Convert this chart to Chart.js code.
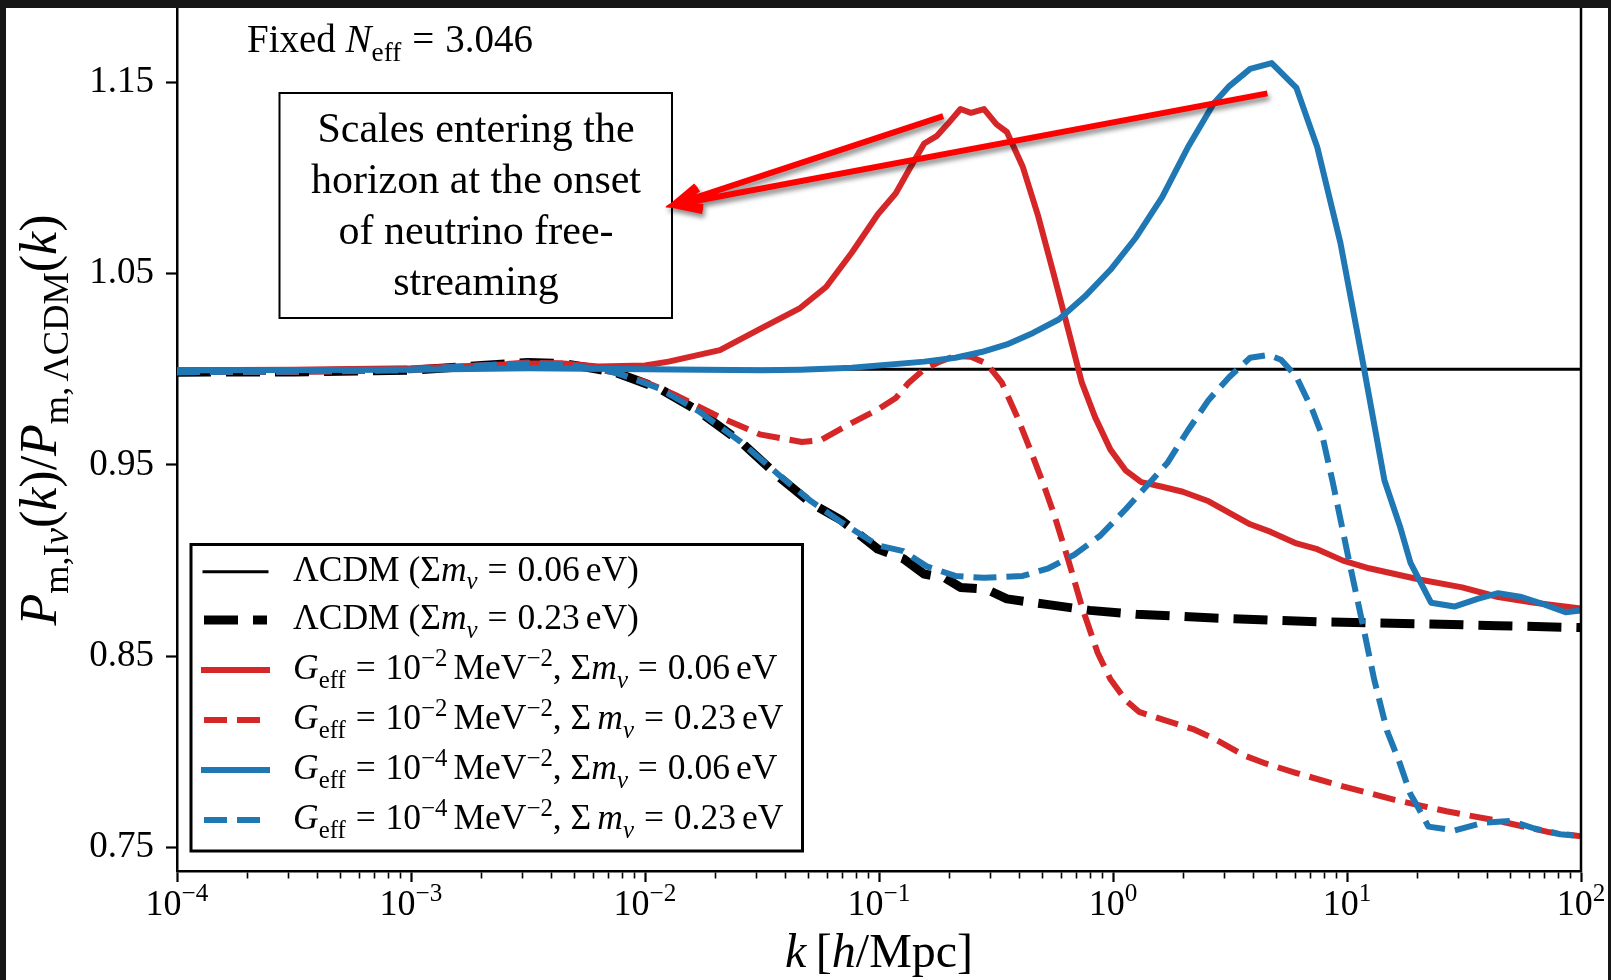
<!DOCTYPE html>
<html>
<head>
<meta charset="utf-8">
<title>Matter power spectrum ratio</title>
<script src="https://cdn.jsdelivr.net/npm/chart.js@4.4.1/dist/chart.umd.min.js"></script>
<style>
  html, body { margin: 0; padding: 0; background: #fff; }
  #wrap { position: relative; width: 1611px; height: 980px; overflow: hidden; background: #fff; }
  #c { position: absolute; left: 0; top: 0; }
  .band { position: absolute; background: #161616; }
</style>
</head>
<body>
<div id="wrap">
  <canvas id="c" width="1611" height="980"></canvas>
  <div class="band" style="left:0;top:0;width:1611px;height:8px"></div>
  <div class="band" style="left:0;top:0;width:6px;height:980px"></div>
  <div class="band" style="left:1608px;top:0;width:3px;height:980px"></div>
</div>
<script>
const SERIF = '"Liberation Serif", "Times New Roman", serif';
const RED = '#d62728';
const BLUE = '#1f77b4';

// ---- data: wavenumber k [h/Mpc] and ratio P_m / P_m,LCDM ----
const kLcdm006 = [1e-4, 100];
const ratioLcdm006 = [1.0, 1.0];

const kLcdm023 = [1e-4, 3.16e-4, 1e-3, 2.0e-3, 3.16e-3, 4.47e-3, 6.31e-3, 7.59e-3, 0.0115, 0.0170,
  0.0257, 0.0380, 0.0513, 0.0692, 0.0989, 0.127, 0.156, 0.191, 0.223, 0.288,
  0.352, 0.530, 0.796, 1.259, 2.698, 7.464, 20.65, 44.26, 100];
const ratioLcdm023 = [0.9985, 0.9986, 0.9995, 1.002, 1.0035, 1.003, 1.000, 0.998, 0.990, 0.978,
  0.962, 0.943, 0.930, 0.921, 0.906, 0.901, 0.893, 0.891, 0.886, 0.885,
  0.880, 0.877, 0.874, 0.872, 0.870, 0.868, 0.867, 0.866, 0.865];

const kStrong006 = [1e-4, 3.16e-4, 1e-3, 2.0e-3, 3.16e-3, 4.47e-3, 6.31e-3, 1e-2, 0.0126, 0.0209,
  0.0309, 0.0460, 0.0594, 0.0766, 0.0989, 0.118, 0.134, 0.156, 0.177, 0.196,
  0.223, 0.247, 0.281, 0.318, 0.352, 0.411, 0.479, 0.557, 0.649, 0.736,
  0.838, 0.975, 1.135, 1.321, 1.622, 1.986, 2.564, 3.855, 4.721, 6.081,
  7.464, 9.616, 12.42, 20.65, 31.05, 44.26, 63.24, 100];
const ratioStrong006 = [0.9995, 0.9997, 1.0005, 1.002, 1.003, 1.003, 1.0015, 1.002, 1.004, 1.010,
  1.021, 1.032, 1.043, 1.061, 1.081, 1.092, 1.104, 1.118, 1.122, 1.128,
  1.136, 1.134, 1.136, 1.128, 1.124, 1.106, 1.080, 1.050, 1.019, 0.993,
  0.975, 0.958, 0.947, 0.941, 0.9386, 0.936, 0.931, 0.919, 0.915, 0.909,
  0.906, 0.900, 0.896, 0.890, 0.886, 0.881, 0.878, 0.875];

const kStrong023 = [1e-4, 3.16e-4, 1e-3, 2.0e-3, 3.16e-3, 4.47e-3, 6.31e-3, 7.59e-3, 0.0102, 0.0138,
  0.0209, 0.0309, 0.0468, 0.0564, 0.0766, 0.0989, 0.118, 0.134, 0.156, 0.182,
  0.212, 0.247, 0.288, 0.335, 0.390, 0.443, 0.504, 0.557, 0.649, 0.736,
  0.859, 0.975, 1.135, 1.291, 1.622, 2.198, 2.698, 3.664, 4.487, 6.081,
  9.616, 16.00, 26.61, 44.26, 73.62, 100];
const ratioStrong023 = [0.9985, 0.9986, 0.9995, 1.002, 1.0035, 1.003, 1.000, 0.998, 0.993, 0.986,
  0.975, 0.966, 0.962, 0.963, 0.972, 0.979, 0.985, 0.993, 1.000, 1.004,
  1.007, 1.0066, 1.003, 0.993, 0.975, 0.958, 0.940, 0.925, 0.899, 0.876,
  0.852, 0.838, 0.827, 0.821, 0.817, 0.812, 0.807, 0.798, 0.794, 0.789,
  0.782, 0.775, 0.769, 0.764, 0.758, 0.756];

const kWeak006 = [1e-4, 1e-3, 3.16e-3, 1e-2, 0.0316, 0.0460, 0.0766, 0.156, 0.212, 0.274,
  0.352, 0.455, 0.586, 0.757, 0.975, 1.256, 1.622, 2.089, 2.698, 3.141,
  3.855, 4.764, 6.081, 7.464, 9.376, 11.80, 14.45, 16.83, 18.66, 22.86,
  28.77, 36.14, 44.26, 55.72, 69.98, 85.90, 100];
const ratioWeak006 = [0.9995, 0.9997, 1.0005, 1.000, 0.9995, 0.9998, 1.0008, 1.004, 1.006, 1.009,
  1.013, 1.019, 1.026, 1.038, 1.052, 1.069, 1.090, 1.116, 1.139, 1.148,
  1.157, 1.160, 1.147, 1.116, 1.066, 1.001, 0.942, 0.918, 0.899, 0.878,
  0.876, 0.880, 0.883, 0.881, 0.877, 0.873, 0.874];

const kWeak023 = [1e-4, 3.16e-4, 1e-3, 2.0e-3, 3.16e-3, 4.47e-3, 6.31e-3, 7.59e-3, 0.0115, 0.0170,
  0.0257, 0.0380, 0.0513, 0.0692, 0.0989, 0.127, 0.160, 0.212, 0.281, 0.411,
  0.530, 0.682, 0.881, 1.135, 1.466, 1.706, 2.089, 2.564, 3.141, 3.855,
  4.603, 5.224, 6.081, 7.096, 7.852, 8.690, 10.12, 11.80, 13.06, 14.83,
  16.83, 18.66, 20.14, 22.28, 28.77, 38.02, 50.35, 63.24, 81.47, 100];
const ratioWeak023 = [0.9985, 0.9988, 0.9998, 1.002, 1.003, 1.0028, 1.000, 0.998, 0.990, 0.978,
  0.962, 0.944, 0.931, 0.920, 0.908, 0.905, 0.897, 0.892, 0.891, 0.892,
  0.896, 0.903, 0.913, 0.927, 0.942, 0.951, 0.968, 0.984, 0.996, 1.006,
  1.0075, 1.005, 0.996, 0.979, 0.965, 0.941, 0.902, 0.864, 0.838, 0.811,
  0.794, 0.778, 0.771, 0.761, 0.759, 0.763, 0.764, 0.760, 0.757, 0.756];

const yTickValues = [0.75, 0.85, 0.95, 1.05, 1.15];
const Y_MIN = 0.7378;
const Y_MAX = 1.1888;
const xDecades = [1e-4, 1e-3, 1e-2, 1e-1, 1, 10, 100];
const xDecadeExponents = ['\u22124', '\u22123', '\u22122', '\u22121', '0', '1', '2'];

// annotation arrows (k, ratio): common tip and two tails
const arrowTip = { k: 0.0132, r: 1.0858 };
const arrowTails = [{ k: 0.188, r: 1.1323 }, { k: 4.57, r: 1.1442 }];

// ---- helpers ----
function pts(ks, rs) { return ks.map((k, i) => ({ x: k, y: rs[i] })); }

// log-axis tick list: decades (major) plus 2..9 (minor)
const xTickList = [];
xDecades.forEach((d, i) => {
  xTickList.push({ value: d, major: true });
  if (i < xDecades.length - 1) for (let m = 2; m <= 9; m++) xTickList.push({ value: m * d, major: false });
});

// rich text: parts {t, i (italic), s ('sub'|'sup'), g (gap in em)}
function layoutRich(ctx, parts, size) {
  let w = 0;
  const items = parts.map(p => {
    if (p.g) { const gw = p.g * size; w += gw; return { gap: gw }; }
    const fs = p.s ? size * 0.7 : size;
    const font = (p.i ? 'italic ' : '') + fs.toFixed(1) + 'px ' + SERIF;
    ctx.font = font;
    const pw = ctx.measureText(p.t).width;
    const dy = p.s === 'sub' ? 0.24 * size : (p.s === 'sup' ? -0.38 * size : 0);
    w += pw;
    return { t: p.t, font, w: pw, dy };
  });
  return { items, w };
}
function drawRich(ctx, parts, x, y, size, align) {
  const L = layoutRich(ctx, parts, size);
  let cx = align === 'center' ? x - L.w / 2 : (align === 'right' ? x - L.w : x);
  ctx.textAlign = 'left';
  ctx.textBaseline = 'alphabetic';
  ctx.fillStyle = '#000';
  for (const it of L.items) {
    if (it.gap) { cx += it.gap; continue; }
    ctx.font = it.font;
    ctx.fillText(it.t, cx, y + it.dy);
    cx += it.w;
  }
}

const EQ = [{ g: 0.28 }, { t: '=' }, { g: 0.28 }];
const legendRows = [
  [{ t: '\u039BCDM (' }, { t: '\u03A3' }, { t: 'm', i: 1 }, { t: '\u03BD', i: 1, s: 'sub' }, ...EQ, { t: '0.06' }, { g: 0.17 }, { t: 'eV)' }],
  [{ t: '\u039BCDM (' }, { t: '\u03A3' }, { t: 'm', i: 1 }, { t: '\u03BD', i: 1, s: 'sub' }, ...EQ, { t: '0.23' }, { g: 0.17 }, { t: 'eV)' }],
  [{ t: 'G', i: 1 }, { t: 'eff', s: 'sub' }, ...EQ, { t: '10' }, { t: '\u22122', s: 'sup' }, { g: 0.17 }, { t: 'MeV' }, { t: '\u22122', s: 'sup' },
   { t: ', \u03A3' }, { t: 'm', i: 1 }, { t: '\u03BD', i: 1, s: 'sub' }, ...EQ, { t: '0.06' }, { g: 0.17 }, { t: 'eV' }],
  [{ t: 'G', i: 1 }, { t: 'eff', s: 'sub' }, ...EQ, { t: '10' }, { t: '\u22122', s: 'sup' }, { g: 0.17 }, { t: 'MeV' }, { t: '\u22122', s: 'sup' },
   { t: ', \u03A3' }, { g: 0.17 }, { t: 'm', i: 1 }, { t: '\u03BD', i: 1, s: 'sub' }, ...EQ, { t: '0.23' }, { g: 0.17 }, { t: 'eV' }],
  [{ t: 'G', i: 1 }, { t: 'eff', s: 'sub' }, ...EQ, { t: '10' }, { t: '\u22124', s: 'sup' }, { g: 0.17 }, { t: 'MeV' }, { t: '\u22122', s: 'sup' },
   { t: ', \u03A3' }, { t: 'm', i: 1 }, { t: '\u03BD', i: 1, s: 'sub' }, ...EQ, { t: '0.06' }, { g: 0.17 }, { t: 'eV' }],
  [{ t: 'G', i: 1 }, { t: 'eff', s: 'sub' }, ...EQ, { t: '10' }, { t: '\u22124', s: 'sup' }, { g: 0.17 }, { t: 'MeV' }, { t: '\u22122', s: 'sup' },
   { t: ', \u03A3' }, { g: 0.17 }, { t: 'm', i: 1 }, { t: '\u03BD', i: 1, s: 'sub' }, ...EQ, { t: '0.23' }, { g: 0.17 }, { t: 'eV' }]
];

const boxLines = ['Scales entering the', 'horizon at the onset', 'of neutrino free-', 'streaming'];

const decorations = {
  id: 'decorations',
  afterDraw(chart) {
    const ctx = chart.ctx;
    const area = chart.chartArea;
    const xs = chart.scales.x, ys = chart.scales.y;

    // right spine
    ctx.save();
    ctx.strokeStyle = '#000';
    ctx.lineWidth = 2.5;
    ctx.beginPath();
    ctx.moveTo(area.right, area.top - 10);
    ctx.lineTo(area.right, area.bottom + 1);
    ctx.stroke();
    ctx.restore();

    // x tick labels 10^n
    ctx.save();
    xDecades.forEach((d, i) => {
      drawRich(ctx, [{ t: '10' }, { t: xDecadeExponents[i], s: 'sup' }], xs.getPixelForValue(d), xs.top + 44, 36, 'center');
    });
    ctx.restore();

    // axis titles
    ctx.save();
    drawRich(ctx, [{ t: 'k', i: 1 }, { g: 0.2 }, { t: '[' }, { t: 'h', i: 1 }, { t: '/Mpc]' }], (area.left + area.right) / 2, 967, 48, 'center');
    ctx.translate(56, 420);
    ctx.rotate(-Math.PI / 2);
    drawRich(ctx, [
      { t: 'P', i: 1 }, { t: 'm,', s: 'sub' }, { t: 'I', s: 'sub' }, { t: '\u03BD', i: 1, s: 'sub' },
      { t: '(' }, { t: 'k', i: 1 }, { t: ')/' },
      { t: 'P', i: 1 }, { t: 'm,', s: 'sub' }, { g: 0.1 }, { t: '\u039BCDM', s: 'sub' },
      { t: '(' }, { t: 'k', i: 1 }, { t: ')' }
    ], 0, 0, 52, 'center');
    ctx.restore();

    // header
    ctx.save();
    drawRich(ctx, [{ t: 'Fixed ' }, { t: 'N', i: 1 }, { t: 'eff', s: 'sub' }, { g: 0.28 }, { t: '=' }, { g: 0.28 }, { t: '3.046' }], 247, 52, 39, 'left');
    ctx.restore();

    // text box
    ctx.save();
    ctx.fillStyle = '#fff';
    ctx.fillRect(279.5, 93, 392.5, 225);
    ctx.strokeStyle = '#000';
    ctx.lineWidth = 2;
    ctx.strokeRect(279.5, 93, 392.5, 225);
    ctx.fillStyle = '#000';
    ctx.font = '42px ' + SERIF;
    ctx.textAlign = 'center';
    ctx.textBaseline = 'alphabetic';
    boxLines.forEach((s, i) => ctx.fillText(s, 476, 142 + i * 51));
    ctx.restore();

    // arrows with drop shadow
    ctx.save();
    const tx = xs.getPixelForValue(arrowTip.k), ty = ys.getPixelForValue(arrowTip.r);
    ctx.beginPath();
    arrowTails.forEach(tl => {
      const sx = xs.getPixelForValue(tl.k), sy = ys.getPixelForValue(tl.r);
      const ang = Math.atan2(sy - ty, sx - tx);
      ctx.moveTo(sx, sy);
      ctx.lineTo(tx + 6 * Math.cos(ang), ty + 6 * Math.sin(ang));
      const len = 30, spread = 22 * Math.PI / 180;
      ctx.moveTo(tx + len * Math.cos(ang - spread), ty + len * Math.sin(ang - spread));
      ctx.lineTo(tx, ty);
      ctx.lineTo(tx + len * Math.cos(ang + spread), ty + len * Math.sin(ang + spread));
    });
    ctx.strokeStyle = '#ff0000';
    ctx.lineWidth = 6;
    ctx.lineCap = 'butt';
    ctx.lineJoin = 'miter';
    ctx.shadowColor = 'rgba(0,0,0,0.45)';
    ctx.shadowBlur = 5;
    ctx.shadowOffsetX = 2;
    ctx.shadowOffsetY = 4;
    ctx.stroke();
    ctx.restore();

    // legend
    ctx.save();
    const lx = 191, ly = 544.5, lw = 611.5, lh = 306.5;
    ctx.fillStyle = '#fff';
    ctx.fillRect(lx, ly, lw, lh);
    ctx.strokeStyle = '#000';
    ctx.lineWidth = 3;
    ctx.strokeRect(lx, ly, lw, lh);
    const rowsY = [571.7, 620, 670, 720, 770, 820];
    chart.data.datasets.forEach((ds, i) => {
      const y = rowsY[i];
      ctx.save();
      ctx.strokeStyle = ds.borderColor;
      ctx.lineWidth = ds.borderWidth;
      const dash = ds.borderDash || [];
      ctx.setLineDash(dash);
      ctx.lineCap = dash.length ? 'butt' : 'square';
      ctx.beginPath();
      ctx.moveTo(204, y);
      ctx.lineTo(267, y);
      ctx.stroke();
      ctx.restore();
      drawRich(ctx, legendRows[i], 293, y + 9, 35.5, 'left');
    });
    ctx.restore();
  }
};

const chart = new Chart(document.getElementById('c'), {
  type: 'line',
  data: {
    datasets: [
      { label: '\u039BCDM (\u03A3m\u03BD = 0.06 eV)', data: pts(kLcdm006, ratioLcdm006),
        borderColor: '#000', borderWidth: 3, order: 5 },
      { label: '\u039BCDM (\u03A3m\u03BD = 0.23 eV)', data: pts(kLcdm023, ratioLcdm023),
        borderColor: '#000', borderWidth: 9, borderDash: [34, 15], order: 4 },
      { label: 'G_eff = 1e-2 MeV^-2, \u03A3m\u03BD = 0.06 eV', data: pts(kStrong006, ratioStrong006),
        borderColor: RED, borderWidth: 6, order: 3 },
      { label: 'G_eff = 1e-2 MeV^-2, \u03A3m\u03BD = 0.23 eV', data: pts(kStrong023, ratioStrong023),
        borderColor: RED, borderWidth: 6, borderDash: [23, 10], order: 2 },
      { label: 'G_eff = 1e-4 MeV^-2, \u03A3m\u03BD = 0.06 eV', data: pts(kWeak006, ratioWeak006),
        borderColor: BLUE, borderWidth: 6, order: 1 },
      { label: 'G_eff = 1e-4 MeV^-2, \u03A3m\u03BD = 0.23 eV', data: pts(kWeak023, ratioWeak023),
        borderColor: BLUE, borderWidth: 6, borderDash: [23, 10], order: 0 }
    ]
  },
  options: {
    responsive: false,
    animation: false,
    layout: { padding: { left: 0, right: 30, top: 8, bottom: 0 } },
    plugins: { legend: { display: false }, tooltip: { enabled: false } },
    elements: {
      point: { radius: 0, hoverRadius: 0 },
      line: { tension: 0, borderJoinStyle: 'round', borderCapStyle: 'butt', fill: false }
    },
    scales: {
      x: {
        type: 'logarithmic', position: 'bottom', min: 1e-4, max: 100,
        afterBuildTicks: s => { s.ticks = xTickList.map(t => ({ value: t.value, major: t.major })); },
        afterFit: s => { s.height = 109; s.paddingLeft = 0; s.paddingRight = 0; },
        ticks: { display: false },
        grid: {
          drawOnChartArea: false, drawTicks: true, tickLength: 11, tickColor: '#000',
          tickWidth: c => (c.tick && c.tick.major ? 2.2 : 1.6),
          tickBorderDash: c => (c.tick && c.tick.major ? [] : [6, 40])
        },
        border: { display: true, color: '#000', width: 2.5 }
      },
      y: {
        type: 'linear', min: Y_MIN, max: Y_MAX,
        afterBuildTicks: s => {
          s.min = Y_MIN;
          s.max = Y_MAX;
          s.ticks = yTickValues.map(v => ({ value: v }));
        },
        afterFit: s => { s.width = 177; s.paddingTop = 0; s.paddingBottom = 0; },
        ticks: { font: { family: SERIF, size: 37 }, color: '#000', padding: 12, callback: v => Number(v).toFixed(2) },
        grid: { drawOnChartArea: false, drawTicks: true, tickLength: 11, tickColor: '#000', tickWidth: 2.2 },
        border: { display: true, color: '#000', width: 2.5 }
      }
    }
  },
  plugins: [decorations]
});
</script>
</body>
</html>
